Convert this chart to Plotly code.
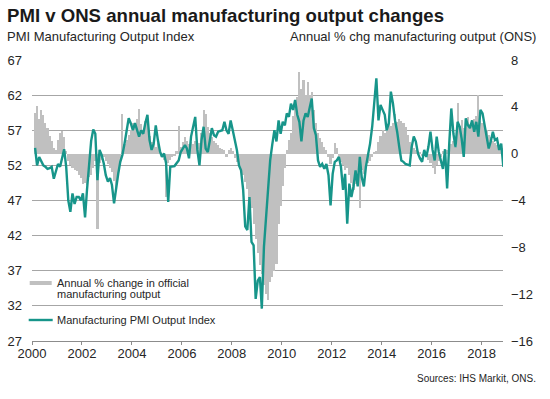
import pandas as pd
import plotly.graph_objects as go

# ---------------- data ----------------
start_month = "2000-01-15"
n_months = 226  # Jan 2000 .. Oct 2018

pmi_output = [
    54.5, 52.0, 53.2, 52.5, 52.0, 51.8, 51.5, 51.6, 51.8, 50.1, 51.3, 52.2, 51.8, 53.0, 54.3, 51.8,
    47.0, 45.4, 48.0, 46.5, 47.5, 47.5, 47.0, 48.0, 44.6, 48.5, 52.7, 55.5, 57.1, 56.5, 49.9, 54.2,
    53.5, 52.3, 50.6, 49.7, 50.2, 49.2, 46.6, 49.0, 50.8, 52.5, 53.5, 55.1, 57.0, 58.7, 58.0, 57.0,
    58.0, 57.0, 56.1, 57.0, 56.5, 58.0, 59.2, 55.6, 54.2, 55.1, 57.7, 55.6, 54.0, 53.2, 53.7, 52.3,
    46.8, 51.8, 51.8, 51.9, 52.3, 52.7, 53.9, 54.5, 54.9, 54.4, 53.0, 56.1, 57.5, 58.9, 54.2, 52.0,
    55.6, 57.5, 54.4, 53.9, 55.6, 57.3, 56.3, 56.1, 56.8, 56.9, 57.0, 58.2, 57.0, 56.5, 58.4, 57.0,
    55.5, 54.2, 52.0, 51.3, 48.5, 43.3, 42.8, 47.5, 41.1, 40.6, 33.0, 35.6, 36.1, 31.6, 40.4, 44.6,
    48.9, 52.7, 55.0, 57.0, 55.4, 58.4, 56.5, 58.2, 57.7, 59.4, 58.9, 60.8, 59.9, 61.3, 59.2, 58.2,
    55.4, 58.4, 59.4, 58.9, 60.3, 61.5, 57.3, 56.3, 52.7, 51.8, 52.2, 51.5, 52.2, 50.6, 46.3, 50.8,
    52.5, 52.7, 53.2, 51.8, 48.5, 50.8, 43.7, 49.4, 47.5, 49.0, 51.3, 49.0, 53.2, 50.3, 49.0, 51.8,
    53.5, 55.1, 57.5, 61.3, 64.4, 58.4, 60.6, 59.9, 59.2, 57.0, 58.0, 62.5, 60.8, 58.4, 56.8, 54.6,
    52.7, 52.5, 52.2, 52.1, 52.0, 54.6, 56.1, 55.4, 53.7, 53.0, 52.5, 54.2, 53.2, 54.6, 56.8, 54.2,
    52.7, 56.1, 53.9, 52.7, 51.5, 54.3,
    48.7, 55.1, 60.1, 56.5, 54.6, 58.2, 57.5, 55.8, 53.2, 58.7, 57.7, 57.3, 58.4, 56.8, 58.2, 56.1,
    59.9, 59.4, 57.7, 56.5, 54.4, 55.4, 56.8, 55.6, 55.8, 54.2, 55.1, 51.8,
]

ons_annual_change = [
    3.5, 4.1, 3.0, 3.7, 3.3, 2.6, 2.2, 1.5, 1.1, 0.5, 0.3, 1.2,          # 2000
    1.8, 1.9, 1.4, 0.2, -0.6, -1.0, -1.2, -1.4, -1.5, -1.8, -2.1, -2.6,  # 2001
    -2.5, -2.7, -2.0, -1.8, -1.2, -0.6, -6.4, -0.8, -0.5, -0.3, -0.6, -0.9,  # 2002
    -1.2, -1.6, -2.3, -2.9, -1.8, -1.0, 3.4, 0.8, 1.2, 1.6, 2.0, 2.6,    # 2003
    2.2, 3.0, 3.8, 2.5, 2.0, 2.8, 3.3, 1.5, 1.0, 0.8, 0.6, 0.9,          # 2004
    0.2, -0.3, -0.5, -3.7, -0.8, -0.5, -0.3, -0.2, 0.2, 2.4, 0.6, 1.0,   # 2005
    1.4, 1.1, 0.8, 1.0, 0.8, 1.1, 0.6, 0.9, 1.8, 3.7, 3.4, 2.3,          # 2006
    1.8, 1.4, 1.1, 0.9, 0.7, 0.5, 0.4, 0.3, -0.3, 0.3, 0.5, 0.2,         # 2007
    -0.4, -0.7, -1.0, -1.4, -1.8, -2.4, -3.0, -3.8, -4.6, -6.0, -7.3, -8.5,  # 2008
    -9.5, -10.3, -11.2, -12.0, -12.5, -11.0, -10.5, -10.0, -9.4, -6.0, -4.5, -2.8,  # 2009
    -1.2, 0.3, 1.2, 1.8, 3.2, 4.0, 4.8, 7.0, 5.5, 6.3, 5.0, 6.1,         # 2010
    5.0, 5.3, 3.7, 2.6, 1.8, 1.3, 1.0, 0.6, 0.3, -0.3, -0.9, -0.4,       # 2011
    0.9, 0.5, -0.3, -0.7, -1.0, -1.4, -1.2, -1.8, -2.5, -3.1, -2.6, -2.0,  # 2012
    -4.6, -1.4, -1.7, -1.2, -0.8, -0.6, -0.3, 0.1, 0.2, 1.0, 1.5, 2.0,   # 2013
    1.8, 2.3, 2.9, 2.4, 2.6, 3.4, 2.7, 3.0, 2.8, 2.6, 2.3, 1.6,          # 2014
    1.0, 0.7, 0.5, 0.3, 0.2, 0.1, -0.2, 0.1, -0.3, -0.5, -0.8, -1.2,     # 2015
    -1.7, -1.0, -0.6, -0.3, 0.2, -0.4, 0.3, 0.5, 0.8, 1.1, 0.6, 4.3,     # 2016
    2.4, 2.9, 2.2, 2.6, 3.1, 2.5, 2.7, 3.0, 3.2, 5.0, 2.8, 2.6,          # 2017
    2.3, 2.0, 1.6, 1.4, 1.1, 0.9, 0.7, 0.6, 0.4, 0.5,                    # 2018
]

year_ticks = ["2000", "2002", "2004", "2006", "2008", "2010", "2012", "2014", "2016", "2018"]
pmi_ticks = [27, 32, 37, 42, 47, 52, 57, 62, 67]
ons_ticks = [-16, -12, -8, -4, 0, 4, 8]

dates = pd.date_range(start_month, periods=n_months, freq="MS") + pd.Timedelta(days=14)

# ---------------- styling ----------------
FONT = "Liberation Sans, Arial, sans-serif"
TXT = "#262626"
TEAL = "#17958a"
GREY_BAR = "#c0c0c0"
GRID = "#a6a6a6"

W, H = 550, 399
L, R, T, B = 32.3, 503.3, 60.0, 341.0


def px(xp):
    return (xp - L) / (R - L)


def py(yp):
    return (B - yp) / (B - T)


fig = go.Figure()
fig.add_trace(go.Bar(
    x=dates, y=ons_annual_change, yaxis="y",
    marker=dict(color=GREY_BAR, line=dict(width=0)),
    width=31 * 24 * 3600 * 1000,
    name="Annual % change in official manufacturing output",
    showlegend=False,
))
fig.add_trace(go.Scatter(
    x=dates, y=pmi_output, yaxis="y2", mode="lines",
    line=dict(color=TEAL, width=2.4),
    name="Manufacturing PMI Output Index",
    showlegend=False,
))

fig.update_layout(
    width=W, height=H,
    margin=dict(l=L, r=W - R, t=T, b=H - B, pad=0, autoexpand=False),
    paper_bgcolor="white", plot_bgcolor="white",
    font=dict(family=FONT, color=TXT, size=13),
    bargap=0,
    xaxis=dict(
        type="date",
        range=["2000-01-01", "2018-11-10"],
        tickvals=[f"{y}-01-01" for y in year_ticks],
        ticktext=year_ticks,
        showgrid=False, zeroline=False, automargin=False,
        showline=True, linecolor="#8c8c8c", linewidth=1,
        ticks="outside", ticklen=3, tickcolor="#8c8c8c",
        ticklabelstandoff=-3,
        tickfont=dict(size=13, color=TXT),
    ),
    yaxis=dict(
        range=[-16, 8], tickvals=ons_ticks, side="right",
        showgrid=False, zeroline=False, ticks="", automargin=False,
        ticklabelstandoff=7,
        tickfont=dict(size=13, color=TXT),
    ),
    yaxis2=dict(
        range=[27, 67], tickvals=pmi_ticks, side="left", overlaying="y",
        showgrid=True, gridcolor=GRID, gridwidth=1, zeroline=False, ticks="",
        automargin=False, ticklabelstandoff=9,
        tickfont=dict(size=13, color=TXT),
    ),
)

annotations = [
    dict(text="<b>PMI v ONS annual manufacturing output changes</b>", x=px(5), y=py(15.5),
         xanchor="left", yanchor="middle", font=dict(size=18.6, color="#1a1a1a")),
    dict(text="PMI Manufacturing Output Index", x=px(5), y=py(37),
         xanchor="left", yanchor="middle", font=dict(size=13, color=TXT)),
    dict(text="Annual % chg manufacturing output (ONS)", x=px(538), y=py(37),
         xanchor="right", yanchor="middle", font=dict(size=13, color=TXT)),
    dict(text="Sources: IHS Markit, ONS.", x=px(538), y=py(378),
         xanchor="right", yanchor="middle", font=dict(size=10, color=TXT)),
    dict(text="Annual % change in official", x=px(55), y=py(282.7),
         xanchor="left", yanchor="middle", font=dict(size=11, color=TXT)),
    dict(text="manufacturing output", x=px(55), y=py(293.5),
         xanchor="left", yanchor="middle", font=dict(size=11, color=TXT)),
    dict(text="Manufacturing PMI Output Index", x=px(55), y=py(320),
         xanchor="left", yanchor="middle", font=dict(size=11, color=TXT)),
]
for a in annotations:
    a.update(xref="paper", yref="paper", showarrow=False)
fig.update_layout(annotations=annotations)

fig.update_layout(shapes=[
    dict(type="rect", xref="paper", yref="paper", x0=px(30), x1=px(52), y0=py(281), y1=py(285),
         fillcolor=GREY_BAR, line=dict(width=0), layer="above"),
    dict(type="line", xref="paper", yref="paper", x0=px(29), x1=px(53), y0=py(320), y1=py(320),
         line=dict(color=TEAL, width=2.4), layer="above"),
])

# the page body has a default 8px margin; remove it so the figure sits at the window origin
fig.write_html("out.html", config={"displayModeBar": False},
               post_script="document.body.style.margin='0px';")
